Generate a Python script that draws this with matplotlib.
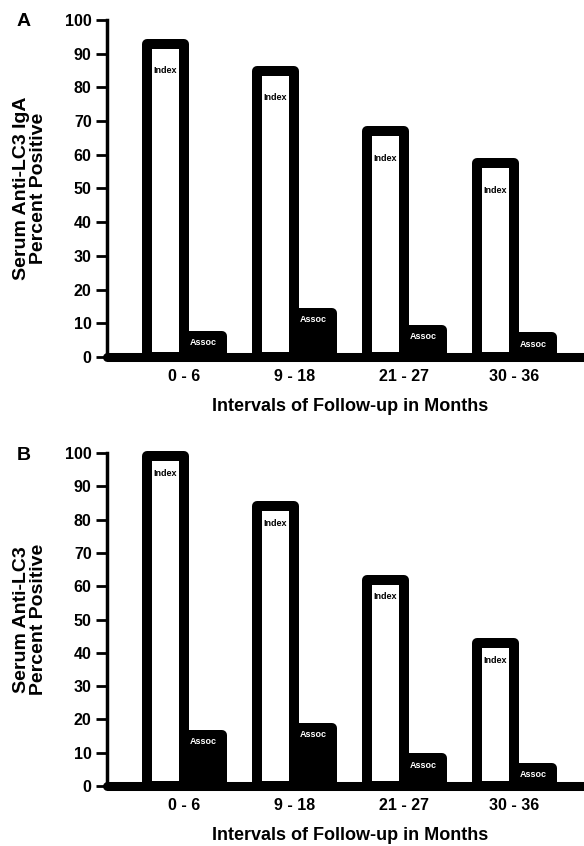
import matplotlib
matplotlib.use('Agg')
import matplotlib.pyplot as plt
import numpy as np

# data (percent positive)
intervals = ['0 - 6', '9 - 18', '21 - 27', '30 - 36']
index_a = [93, 85, 67, 57.5]
assoc_a = [6.2, 13.2, 8, 5.8]
index_b = [99, 84, 62, 43]
assoc_b = [15.3, 17.5, 8.3, 5.5]

plt.rcParams['font.family'] = ['Liberation Sans', 'DejaVu Sans']
plt.rcParams['font.weight'] = 'bold'

W, H = 584.0, 846.0
fig = plt.figure(figsize=(W / 100, H / 100), dpi=100)


def panel(y_top, y_bot, idx, asc, ylab, letter, idx_off):
    x_left, x_right = 107.0, 584.0
    ax = fig.add_axes([x_left / W, 1 - y_bot / H, (x_right - x_left) / W, (y_bot - y_top) / H])
    pos = np.arange(len(intervals))
    bw = 0.342
    b1 = ax.bar(pos - bw, idx, bw, align='edge', color='white', edgecolor='black',
                linewidth=7.2, clip_on=False, zorder=2)
    b2 = ax.bar(pos, asc, bw, align='edge', color='black', edgecolor='black',
                linewidth=7.2, clip_on=False, zorder=2)
    for p in list(b1) + list(b2):
        p.set_joinstyle('round')
    for p, v in zip(pos, idx):
        ax.text(p - bw / 2, v - idx_off, 'Index', ha='center', va='center',
                fontsize=6.5, color='black', zorder=4)
    for p, v in zip(pos, asc):
        ax.text(p + bw / 2, v - 2.0, 'Assoc', ha='center', va='center',
                fontsize=6.5, color='white', zorder=4)

    ax.set_xlim(-0.703, 3.634)
    ax.set_ylim(0, 100)
    ax.set_yticks(np.arange(0, 101, 10))
    ax.set_xticks(pos)
    ax.set_xticklabels(intervals)
    ax.tick_params(axis='y', labelsize=11.5, length=8, width=2, pad=3)
    ax.tick_params(axis='x', labelsize=11.5, length=0, pad=8.5)
    for s in ['top', 'right']:
        ax.spines[s].set_visible(False)
    ax.spines['left'].set_linewidth(2.5)
    ax.spines['bottom'].set_linewidth(6.5)
    ax.spines['bottom'].set_capstyle('round')
    ax.spines['left'].set_zorder(3)
    ax.spines['bottom'].set_zorder(3)

    fig.text(350 / W, 1 - (y_bot + 49) / H, 'Intervals of Follow-up in Months',
             ha='center', va='center', fontsize=13)
    fig.text(30 / W, 1 - (y_top + y_bot) / 2 / H, ylab, rotation=90, ha='center',
             va='center', multialignment='center', fontsize=14, linespacing=1.05)
    fig.text(24 / W, 1 - (y_top + 2) / H, letter, ha='center', va='center', fontsize=14)
    return ax


panel(20, 357, index_a, assoc_a, 'Serum Anti-LC3 IgA\nPercent Positive', 'A', 8.0)
panel(453, 786, index_b, assoc_b, 'Serum Anti-LC3\nPercent Positive', 'B', 5.2)

plt.savefig('out.png', dpi=100)
